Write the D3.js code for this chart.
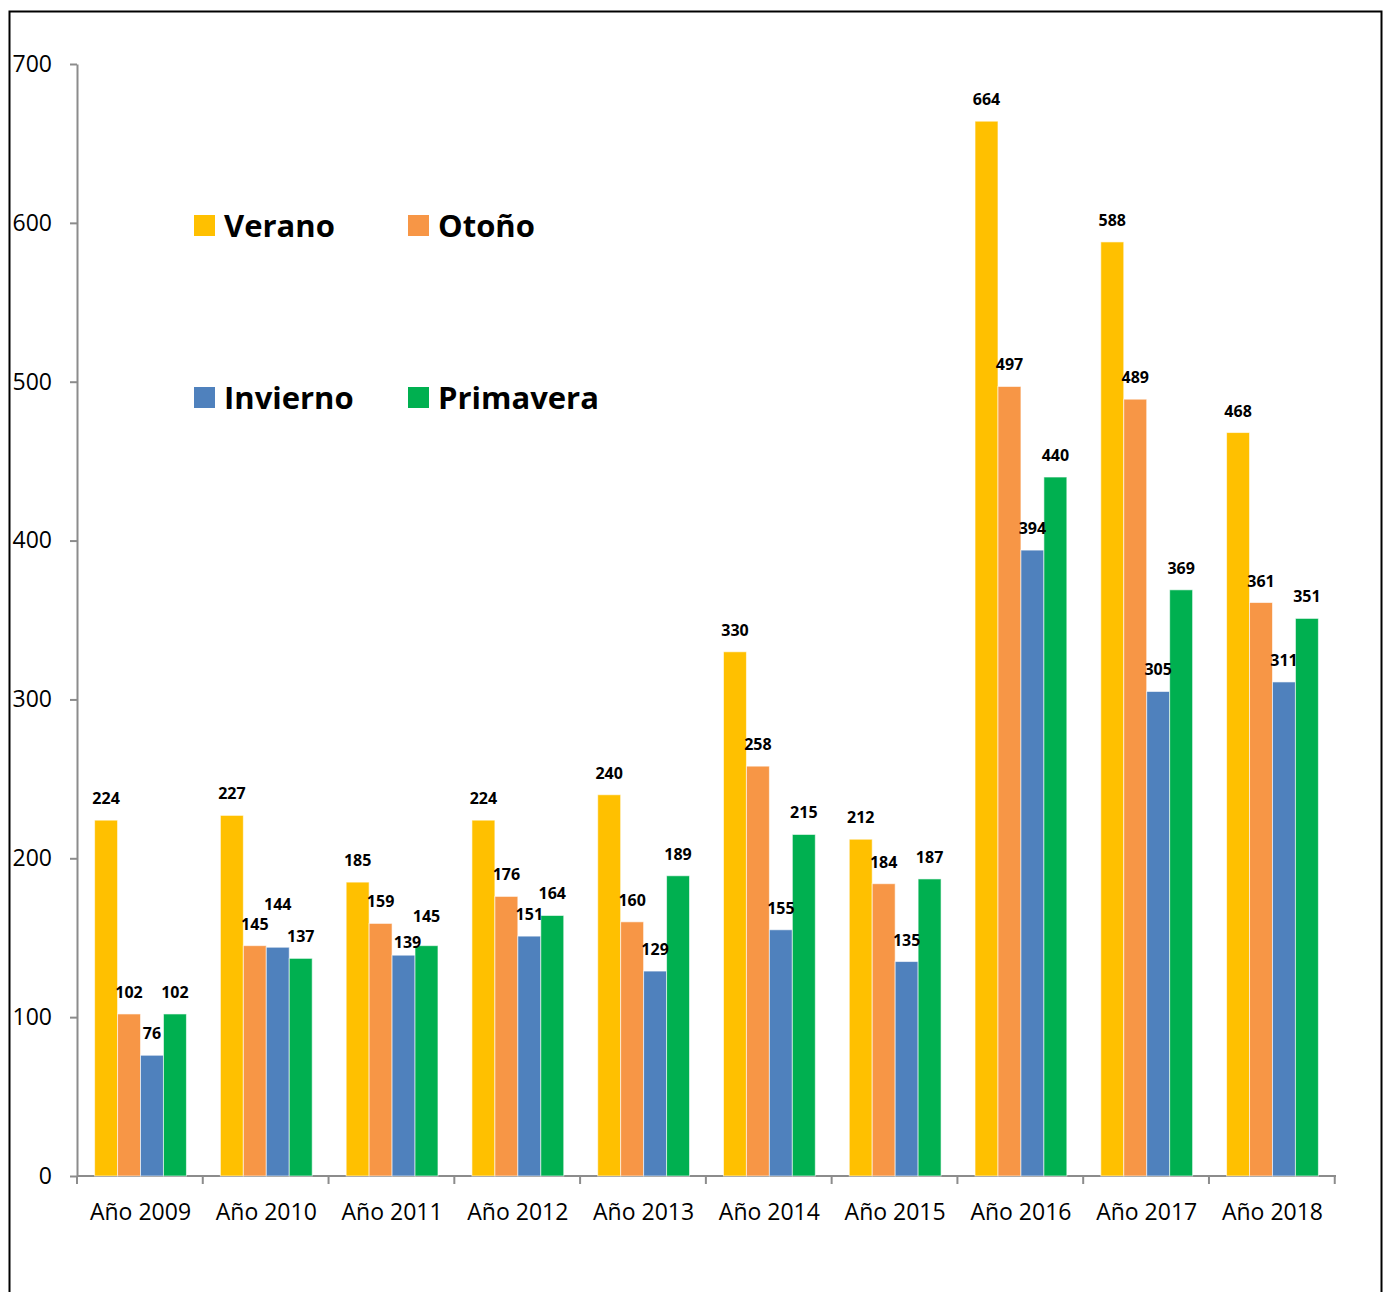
<!DOCTYPE html>
<html>
<head>
<meta charset="utf-8">
<script src="https://cdn.jsdelivr.net/npm/d3@7"></script>
<style>
  html, body { margin: 0; padding: 0; background: #fff; }
  svg { display: block; }
</style>
</head>
<body>
<script>
// Yearly counts per season
const years = ["Año 2009", "Año 2010", "Año 2011", "Año 2012", "Año 2013",
               "Año 2014", "Año 2015", "Año 2016", "Año 2017", "Año 2018"];
const seasons = ["Verano", "Otoño", "Invierno", "Primavera"];
const verano    = [224, 227, 185, 224, 240, 330, 212, 664, 588, 468];
const otono     = [102, 145, 159, 176, 160, 258, 184, 497, 489, 361];
const invierno  = [ 76, 144, 139, 151, 129, 155, 135, 394, 305, 311];
const primavera = [102, 137, 145, 164, 189, 215, 187, 440, 369, 351];
const yTicks = [0, 100, 200, 300, 400, 500, 600, 700];
const seasonColors = ["#FFC000", "#F79646", "#4F81BD", "#00B050"];

const seriesValues = [verano, otono, invierno, primavera];
const rows = years.map((y, i) => ({
  year: y,
  values: seasons.map((s, j) => ({ season: s, value: seriesValues[j][i] }))
}));

// Label nudges where neighbouring value labels would collide
const labelNudge = {
  "Año 2010|Invierno": { dx: 0, dy: -21 },
  "Año 2011|Invierno": { dx: 4, dy: 9 },
  "Año 2011|Primavera": { dx: 0, dy: -8 }
};

const W = 1389, H = 1292;
const margin = { left: 77, right: 1336, top: 64, bottom: 1176 };
const FONT = "'Open Sans', 'Noto Sans', sans-serif";

const svg = d3.select("body").append("svg")
  .attr("width", W).attr("height", H);

// outer frame
svg.append("rect")
  .attr("x", 9.5).attr("y", 11.5)
  .attr("width", 1372).attr("height", 1300)
  .attr("fill", "none").attr("stroke", "#000").attr("stroke-width", 2);

const x0 = d3.scaleBand()
  .domain(years)
  .range([margin.left, margin.right])
  .paddingInner(0.27)
  .paddingOuter(0.14);

const x1 = d3.scaleBand()
  .domain(seasons)
  .range([0, x0.bandwidth()]);

const y = d3.scaleLinear()
  .domain([0, 700])
  .range([margin.bottom, margin.top]);

const color = d3.scaleOrdinal().domain(seasons).range(seasonColors);

// Y axis
const yAxis = svg.append("g")
  .attr("transform", `translate(${margin.left},0)`)
  .call(d3.axisLeft(y).tickValues(yTicks).tickSize(7).tickPadding(18).tickSizeOuter(0));
yAxis.select(".domain").attr("stroke", "#8c8c8c").attr("stroke-width", 2);
yAxis.selectAll(".tick line").attr("stroke", "#8c8c8c").attr("stroke-width", 2);
yAxis.selectAll(".tick text")
  .attr("font-family", FONT).attr("font-size", 23).attr("fill", "#000");

// X axis with ticks on category boundaries
const xAxisG = svg.append("g")
  .attr("transform", `translate(0,${margin.bottom})`);
xAxisG.append("line")
  .attr("x1", margin.left).attr("x2", margin.right)
  .attr("stroke", "#8c8c8c").attr("stroke-width", 2);
const step = x0.step();
const boundaries = d3.range(years.length + 1).map(i => margin.left + i * step);
xAxisG.selectAll("line.tk").data(boundaries).join("line")
  .attr("class", "tk")
  .attr("x1", d => d).attr("x2", d => d)
  .attr("y1", 0).attr("y2", 8)
  .attr("stroke", "#8c8c8c").attr("stroke-width", 2);
xAxisG.selectAll("text").data(years).join("text")
  .attr("x", d => x0(d) + x0.bandwidth() / 2)
  .attr("y", 44)
  .attr("text-anchor", "middle")
  .attr("font-family", FONT).attr("font-size", 23).attr("fill", "#000")
  .text(d => d);

// Bars
const groups = svg.append("g").selectAll("g").data(rows).join("g")
  .attr("transform", d => `translate(${x0(d.year)},0)`);

groups.selectAll("rect").data(d => d.values.map(v => ({ ...v, year: d.year }))).join("rect")
  .attr("x", d => x1(d.season))
  .attr("y", d => y(d.value))
  .attr("width", x1.bandwidth())
  .attr("height", d => y(0) - y(d.value))
  .attr("fill", d => color(d.season))
  .attr("stroke", "rgba(255,255,255,0.6)")
  .attr("stroke-width", 1);

// Value labels
groups.selectAll("text").data(d => d.values.map(v => ({ ...v, year: d.year }))).join("text")
  .attr("x", d => x1(d.season) + x1.bandwidth() / 2 + ((labelNudge[d.year + "|" + d.season] || {}).dx || 0))
  .attr("y", d => y(d.value) - 16 + ((labelNudge[d.year + "|" + d.season] || {}).dy || 0))
  .attr("text-anchor", "middle")
  .attr("font-family", FONT).attr("font-size", 16).attr("font-weight", "bold").attr("fill", "#000")
  .text(d => d.value);

// Legend: two columns, two rows
const legendPos = [
  { x: 194, y: 215 }, { x: 408, y: 215 },
  { x: 194, y: 387 }, { x: 408, y: 387 }
];
const legend = svg.append("g").selectAll("g").data(seasons).join("g")
  .attr("transform", (d, i) => `translate(${legendPos[i].x},${legendPos[i].y})`);
legend.append("rect")
  .attr("width", 21).attr("height", 21)
  .attr("fill", d => color(d));
legend.append("text")
  .attr("x", 30).attr("y", 22)
  .attr("font-family", FONT).attr("font-size", 31).attr("font-weight", "bold").attr("fill", "#000")
  .text(d => d);
</script>
</body>
</html>
